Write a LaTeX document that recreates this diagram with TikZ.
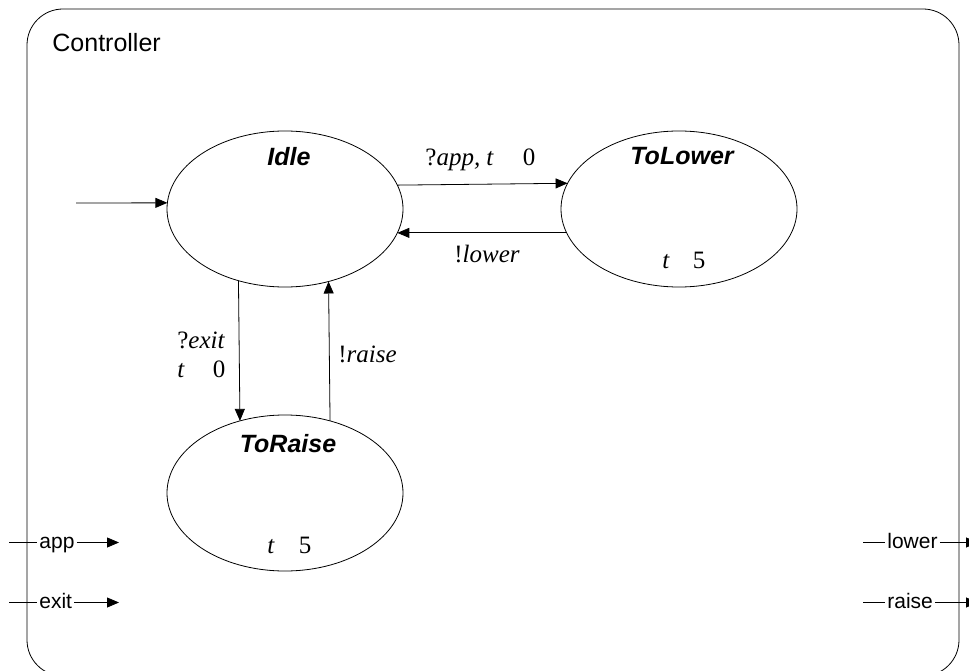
\documentclass[tikz,border=0pt]{standalone}
\usepackage{fontspec}
\setmainfont{Liberation Serif}
\setsansfont{Liberation Sans}
\usetikzlibrary{arrows.meta,shapes.geometric}
\begin{document}
\begin{tikzpicture}[x=1pt,y=-1pt,
  line width=0.8pt,
  state/.style={ellipse,draw,minimum width=236pt,minimum height=156pt,inner sep=0pt,outer sep=0pt},
  sname/.style={font=\fontsize{25}{30}\sffamily\bfseries\itshape,inner sep=0pt,anchor=base},
  lbl/.style={font=\fontsize{25}{30}\selectfont,inner sep=0pt,anchor=base west},
  port/.style={font=\fontsize{21}{25}\sffamily,inner sep=2pt,anchor=base west},
  arr/.style={-{Triangle[length=12pt,width=10pt]}}]
\useasboundingbox (0,0) rectangle (969,671);
\draw[rounded corners=36pt] (27,9) rectangle (959,676);
\node[anchor=base west,font=\fontsize{25}{30}\sffamily,inner sep=0pt] (ctrl) at (52,52) {Controller};
% states
\node[state] (Idle) at (285,209) {};
\node[state] (ToLower) at (679,209) {};
\node[state] (ToRaise) at (285,493) {};
\node[sname] (nIdle) at (289,166) {Idle};
\node[sname] (nTL) at (682,165) {ToLower};
\node[sname] (nTR) at (288,452) {ToRaise};
\node[lbl] (invTL) at (662,269) {\textit{t}\hspace{23pt}5};
\node[lbl] (invTR) at (267,553) {\textit{t}\hspace{24pt}5};
% edge labels
\node[lbl] (gApp) at (425,166) {?\textit{app, t}\hspace{29pt}0};
\node[lbl] (aLow) at (454,262) {!\textit{lower}};
\node[lbl] (gExit) at (177,348) {?\textit{exit}};
\node[lbl] (gExit2) at (177,377) {\textit{t}\hspace{28pt}0};
\node[lbl] (aRaise) at (338,362) {!\textit{raise}};
% edges
\coordinate (init) at (76,203);
\draw[arr] (init) -- (Idle.177.1);
\draw[arr] (Idle.12.6) -- (ToLower.167.4);
\draw[arr] (ToLower.192.07) -- (Idle.-12.07);
\draw[arr] (Idle.237.4) -- (ToRaise.122.6);
\draw[arr] (ToRaise.58.03) -- (Idle.301.97);
% ports
\coordinate (lx) at (9,0);
\coordinate (lt) at (119,0);
\coordinate (rx) at (863,0);
\coordinate (rt) at (978,0);
\node[port] (pApp) at (37,548) {app};
\node[port] (pExit) at (37,608) {exit};
\node[port] (pLower) at (885,548) {lower};
\node[port] (pRaise) at (885,608) {raise};
\foreach \p in {pApp,pExit,pLower,pRaise}{
  \coordinate (\p-W) at ([yshift=5.5pt]\p.base west);
  \coordinate (\p-E) at ([yshift=5.5pt]\p.base east);
}
\foreach \p in {pApp,pExit}{
  \draw (lx |- \p-W) -- (\p-W);
  \draw[arr] (\p-E) -- (lt |- \p-E);
}
\foreach \p in {pLower,pRaise}{
  \draw (rx |- \p-W) -- (\p-W);
  \draw[arr] (\p-E) -- (rt |- \p-E);
}
\end{tikzpicture}
\end{document}
